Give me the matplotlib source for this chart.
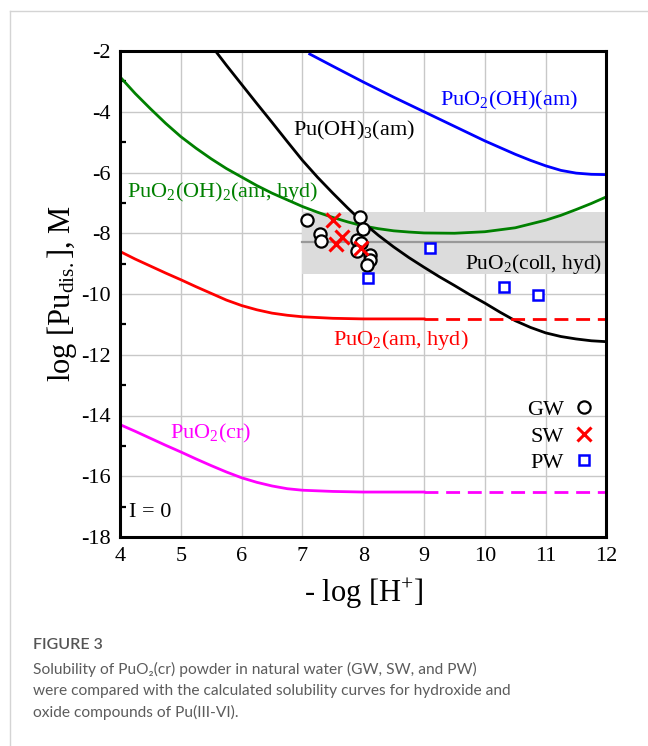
import numpy as np
import matplotlib
matplotlib.use("Agg")
import matplotlib.pyplot as plt
from matplotlib.lines import Line2D

plt.rcParams["font.family"] = ["Liberation Serif", "DejaVu Serif"]
plt.rcParams["mathtext.fontset"] = "custom"
plt.rcParams["mathtext.rm"] = "Liberation Serif"
plt.rcParams["mathtext.it"] = "Liberation Serif:italic"
plt.rcParams["axes.unicode_minus"] = False

# ---------- solubility curves ------------------------------------------
# PuO2(OH)2(am, hyd)
green_x = [4, 4.25, 4.5, 4.75, 5, 5.25, 5.5, 5.75, 6, 6.25, 6.5, 6.75, 7,
           7.25, 7.5, 7.75, 8, 8.25, 8.5, 8.75, 9, 9.5, 10, 10.5, 11, 11.25,
           11.5, 11.75, 12]
green_y = [-2.85, -3.4, -3.9, -4.38, -4.82, -5.2, -5.55, -5.87, -6.15, -6.43,
           -6.68, -6.9, -7.12, -7.31, -7.48, -7.63, -7.76, -7.85, -7.92, -7.96,
           -7.99, -8.0, -7.95, -7.82, -7.57, -7.41, -7.22, -7.02, -6.8]

# Pu(OH)3(am)
black_x = [5.57, 5.75, 6, 6.25, 6.5, 6.75, 7, 7.25, 7.5, 7.75, 8, 8.25, 8.5,
           8.75, 9, 9.25, 9.5, 9.75, 10, 10.25, 10.5, 10.75, 11, 11.25, 11.5,
           11.75, 12]
black_y = [-2.0, -2.47, -3.1, -3.73, -4.35, -4.98, -5.6, -6.16, -6.68, -7.18,
           -7.65, -8.07, -8.45, -8.8, -9.12, -9.43, -9.72, -10.02, -10.3,
           -10.6, -10.88, -11.1, -11.28, -11.4, -11.48, -11.54, -11.57]

# PuO2(OH)(am)
blue_x = [7.12, 7.5, 8, 8.5, 9, 9.5, 10, 10.5, 10.75, 11, 11.25, 11.5, 11.75, 12]
blue_y = [-2.1, -2.5, -3.02, -3.52, -4.0, -4.48, -4.96, -5.4, -5.6, -5.78,
          -5.93, -6.02, -6.06, -6.07]

# PuO2(am, hyd): solid to pH 9, dashed beyond
red_x = [4, 4.25, 4.5, 4.75, 5, 5.25, 5.5, 5.75, 6, 6.25, 6.5, 6.75, 7, 7.5, 8, 9]
red_y = [-8.6, -8.85, -9.08, -9.31, -9.53, -9.76, -9.98, -10.2, -10.38, -10.52,
         -10.63, -10.7, -10.75, -10.8, -10.82, -10.82]
red_ext_x = [9, 12]
red_ext_y = [-10.82, -10.82]

# PuO2(cr)
mag_x = [4, 4.25, 4.5, 4.75, 5, 5.25, 5.5, 5.75, 6, 6.25, 6.5, 6.75, 7, 7.5, 8, 9]
mag_y = [-14.3, -14.52, -14.75, -14.98, -15.2, -15.43, -15.65, -15.86, -16.05,
         -16.2, -16.32, -16.41, -16.46, -16.5, -16.52, -16.52]
mag_ext_x = [9, 12]
mag_ext_y = [-16.52, -16.52]

# PuO2(coll, hyd) band
coll_x = [7, 12]
coll_mid = -8.3
coll_lo, coll_hi = -9.33, -7.3

# ---------- measured points --------------------------------------------
gw_x = [7.07, 7.29, 7.3, 7.95, 8.0, 7.89, 7.97, 7.89, 8.11, 8.11, 8.06]
gw_y = [-7.56, -8.02, -8.26, -7.45, -7.87, -8.22, -8.33, -8.6, -8.7, -8.88, -9.05]

sw_x = [7.51, 7.65, 7.55, 7.97]
sw_y = [-7.58, -8.11, -8.35, -8.5]

pw_x = [8.08, 9.1, 10.32, 10.88]
pw_y = [-9.48, -8.5, -9.76, -10.03]

x_ticks = [4, 5, 6, 7, 8, 9, 10, 11, 12]
y_ticks = [-2, -4, -6, -8, -10, -12, -14, -16, -18]

caption_head = "FIGURE 3"
caption_lines = [
    "Solubility of PuO\u2082(cr) powder in natural water (GW, SW, and PW)",
    "were compared with the calculated solubility curves for hydroxide and",
    "oxide compounds of Pu(III-VI).",
]

W, H = 648, 746
fig = plt.figure(figsize=(W / 100, H / 100), dpi=100)
ax = fig.add_axes([120 / W, 1 - 537 / H, 486.5 / W, 486 / H])

LW = 2.0
ax.fill_between(coll_x, [coll_lo] * 2, [coll_hi] * 2, color="#dcdcdc", lw=0, zorder=1)
ax.plot(coll_x, [coll_mid] * 2, color="#999999", lw=1.6, zorder=2)

ax.plot(green_x, green_y, color="#008000", lw=LW, zorder=3)
ax.plot(black_x, black_y, color="black", lw=LW, zorder=3)
ax.plot(blue_x, blue_y, color="#0000ff", lw=LW, zorder=3)
ax.plot(red_x, red_y, color="#ff0000", lw=LW, zorder=3)
ax.plot(red_ext_x, red_ext_y, color="#ff0000", lw=LW, ls=(0, (5, 2.8)), zorder=3)
ax.plot(mag_x, mag_y, color="#ff00ff", lw=LW, zorder=3)
ax.plot(mag_ext_x, mag_ext_y, color="#ff00ff", lw=LW, ls=(0, (5, 2.8)), zorder=3)

gw, = ax.plot(gw_x, gw_y, "o", ms=8.8, mfc="white", mec="black", mew=1.6,
              ls="none", zorder=4)
sw, = ax.plot(sw_x, sw_y, "x", ms=9.5, mec="#ff0000", mew=2.2, ls="none", zorder=5)
pw, = ax.plot(pw_x, pw_y, "s", ms=7.5, mfc="white", mec="#0000ff", mew=1.8,
              ls="none", zorder=4)

fs = 16
ax.text(6.85, -4.77, "Pu(OH)$_3$(am)", fontsize=fs, color="black", zorder=6)
ax.text(9.26, -3.81, "PuO$_2$(OH)(am)", fontsize=fs, color="#0000ff", zorder=6)
ax.text(4.11, -6.8, "PuO$_2$(OH)$_2$(am, hyd)", fontsize=fs, color="#008000", zorder=6)
ax.text(9.67, -9.19, "PuO$_2$(coll, hyd)", fontsize=15.5, color="black", zorder=6)
ax.text(7.5, -11.68, "PuO$_2$(am, hyd)", fontsize=fs, color="#ff0000", zorder=6)
ax.text(4.82, -14.75, "PuO$_2$(cr)", fontsize=fs, color="#ff00ff", zorder=6)
ax.text(4.15, -17.34, "I = 0", fontsize=fs, color="black", zorder=6)

leg = ax.legend([gw, sw, pw], ["GW", "SW", "PW"], markerfirst=False,
                frameon=False, fontsize=fs, handlelength=0.8,
                handletextpad=0.5, labelspacing=0.27, borderpad=0,
                borderaxespad=0, loc="upper right",
                bbox_to_anchor=(0.972, 0.283))
leg.set_zorder(7)

ax.set_xlim(4, 12)
ax.set_ylim(-18, -2)
ax.set_xticks(x_ticks)
ax.set_yticks(y_ticks)
ax.set_yticks(np.arange(-17, -2, 2), minor=True)
ax.tick_params(axis="both", which="major", labelsize=fs, direction="in",
               length=0, pad=7)
ax.tick_params(axis="y", which="minor", direction="in", length=4, width=1.6)
ax.tick_params(axis="x", which="minor", length=0)
ax.grid(True, which="major", color="#c8c8c8", lw=1.0, zorder=0)
ax.set_axisbelow(True)
for sp in ax.spines.values():
    sp.set_linewidth(2.2)
    sp.set_zorder(8)

ax.set_xlabel("- log [H$^{+}$]", fontsize=22, labelpad=8)
ax.set_ylabel("log [Pu$_{\\rm dis.}$], M", fontsize=22, labelpad=1)

# card border of the page (left and top edges only)
fig.add_artist(Line2D([9.5 / W, 9.5 / W], [0, 1 - 10.5 / H], color="#d4d4d4",
                      lw=1.0, transform=fig.transFigure))
fig.add_artist(Line2D([9.5 / W, 1], [1 - 10.5 / H, 1 - 10.5 / H], color="#d4d4d4",
                      lw=1.0, transform=fig.transFigure))

cap_font = ["Lato", "DejaVu Sans"]
fig.text(33 / W, 1 - 649 / H, caption_head, fontsize=11.5, fontweight="semibold",
         color="#555555", family=cap_font, va="baseline")
for i, line in enumerate(caption_lines):
    fig.text(33 / W, 1 - (674 + 21.3 * i) / H, line, fontsize=11.2,
             color="#5c5c5c", family=cap_font, va="baseline")

fig.savefig("out.png", dpi=100)
